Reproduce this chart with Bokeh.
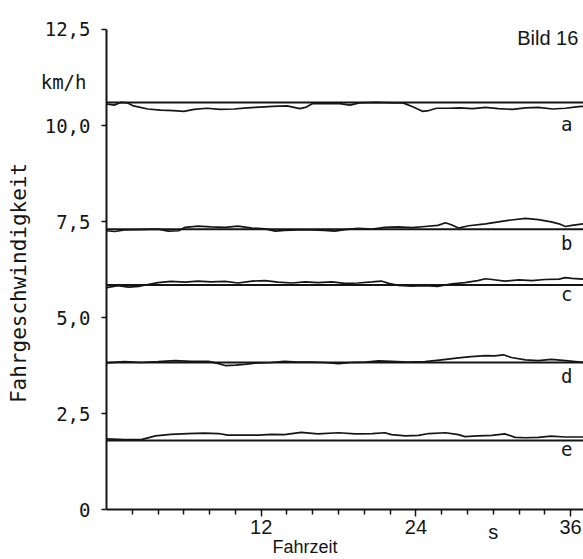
from bokeh.plotting import figure
from bokeh.models import FixedTicker, Label, Range1d
from bokeh.embed import file_html
from bokeh.resources import INLINE

# ---- data ----
y_ticks = [0, 2.5, 5.0, 7.5, 10.0, 12.5]
y_tick_labels = ["0", "2,5", "5,0", "7,5", "10,0", "12,5"]
x_ticks = [12, 24, 36]
x_minor = [2, 4, 6, 8, 10, 14, 16, 18, 20, 22, 26, 28, 30, 32, 34]

names = ["a", "b", "c", "d", "e"]
ref_levels = [10.6, 7.3, 5.85, 3.83, 1.8]

t_a = [0, 0.6, 1.1, 1.6, 2.1, 3.2, 4.2, 5.2, 6.0, 6.8, 7.8, 8.8, 9.9, 10.9, 11.9, 12.9, 14.0, 15.0, 15.5, 16.0,
       17.1, 18.1, 18.9, 19.6, 20.9, 22.2, 23.0, 23.8, 24.5, 25.0, 25.6, 26.6, 27.4, 28.4, 29.4, 30.4, 31.5,
       32.5, 33.5, 34.6, 35.6, 36.6, 37.0]
v_a = [10.56, 10.53, 10.60, 10.59, 10.51, 10.43, 10.40, 10.39, 10.37, 10.42, 10.45, 10.42, 10.43, 10.46, 10.48,
       10.50, 10.51, 10.44, 10.48, 10.57, 10.57, 10.57, 10.53, 10.59, 10.60, 10.59, 10.59, 10.48, 10.37, 10.39,
       10.45, 10.45, 10.46, 10.44, 10.47, 10.44, 10.42, 10.46, 10.47, 10.43, 10.45, 10.49, 10.50]

t_b = [0, 0.65, 1.4, 2.7, 4.0, 4.8, 5.6, 6.1, 7.1, 8.1, 9.2, 10.2, 11.3, 12.3, 13.1, 13.8, 14.9, 15.9, 16.9, 17.7,
       18.5, 19.5, 20.6, 21.6, 22.6, 23.7, 24.7, 25.7, 26.3, 26.8, 27.3, 28.1, 29.4, 30.4, 31.4, 32.5, 33.5,
       34.5, 35.1, 35.6, 36.1, 37.0]
v_b = [7.26, 7.24, 7.28, 7.29, 7.30, 7.25, 7.26, 7.35, 7.38, 7.36, 7.35, 7.38, 7.33, 7.31, 7.25, 7.27, 7.28, 7.28,
       7.27, 7.25, 7.29, 7.32, 7.30, 7.35, 7.36, 7.34, 7.37, 7.40, 7.47, 7.41, 7.33, 7.39, 7.44, 7.49, 7.54, 7.58,
       7.55, 7.49, 7.44, 7.37, 7.40, 7.44]

t_c = [0, 0.9, 1.7, 2.5, 3.2, 4.0, 5.0, 6.1, 7.1, 8.1, 9.2, 10.2, 11.3, 12.3, 13.3, 14.4, 15.4, 16.4, 17.5, 18.5,
       19.5, 20.6, 21.3, 21.9, 22.6, 23.7, 24.7, 25.7, 26.8, 27.8, 28.8, 29.4, 29.9, 30.9, 32.0, 33.0, 34.0,
       35.1, 35.6, 36.1, 37.0]
v_c = [5.78, 5.83, 5.79, 5.81, 5.86, 5.91, 5.94, 5.92, 5.95, 5.93, 5.94, 5.90, 5.95, 5.96, 5.92, 5.90, 5.93, 5.91,
       5.93, 5.89, 5.90, 5.93, 5.95, 5.89, 5.84, 5.82, 5.83, 5.81, 5.88, 5.91, 5.96, 6.01, 5.99, 5.95, 5.98, 5.96,
       5.99, 6.00, 6.04, 6.02, 6.00]

t_d = [0, 1.4, 2.7, 4.0, 5.3, 6.6, 7.9, 8.7, 9.2, 10.0, 10.7, 11.5, 12.8, 13.8, 14.9, 15.9, 16.9, 18.0, 19.0, 20.1,
       21.1, 22.1, 23.4, 24.7, 26.0, 27.3, 28.3, 29.4, 30.1, 30.8, 31.4, 32.5, 33.5, 34.5, 35.6, 37.0]
v_d = [3.82, 3.85, 3.83, 3.85, 3.88, 3.86, 3.86, 3.80, 3.75, 3.76, 3.78, 3.81, 3.83, 3.86, 3.84, 3.84, 3.83, 3.80,
       3.83, 3.84, 3.87, 3.86, 3.84, 3.85, 3.90, 3.95, 3.98, 4.01, 4.00, 4.03, 3.96, 3.90, 3.88, 3.91, 3.88, 3.83]

t_e = [0, 1.4, 2.7, 3.8, 5.0, 6.3, 7.6, 8.7, 9.4, 10.7, 11.8, 12.8, 13.8, 15.1, 16.4, 18.0, 19.3, 20.6, 21.6, 22.1,
       23.2, 24.2, 25.0, 26.3, 27.3, 27.8, 28.8, 29.9, 30.9, 31.7, 32.5, 33.5, 34.5, 35.6, 37.0]
v_e = [1.84, 1.82, 1.82, 1.92, 1.96, 1.98, 1.99, 1.98, 1.94, 1.94, 1.94, 1.96, 1.95, 2.01, 1.97, 2.00, 1.97, 1.98,
       2.00, 1.95, 1.92, 1.93, 1.98, 2.00, 1.95, 1.90, 1.92, 1.93, 1.97, 1.88, 1.87, 1.88, 1.91, 1.89, 1.89]

series_t = [t_a, t_b, t_c, t_d, t_e]
series_v = [v_a, v_b, v_c, v_d, v_e]
label_drop = [0.57, 0.36, 0.23, 0.36, 0.21]

INK = "#151515"
MONO = "DejaVu Sans Mono"
SANS = "Liberation Sans"

# frame covers the whole canvas; axes are pinned at data zero
p = figure(width=583, height=559, output_backend="svg", toolbar_location=None,
           x_range=Range1d(-8.22, 37.0), y_range=Range1d(-1.30, 13.255),
           min_border=0, min_border_left=0, min_border_right=0, min_border_top=0, min_border_bottom=0)
p.outline_line_color = None
p.xgrid.visible = False
p.ygrid.visible = False
p.background_fill_color = "white"
p.border_fill_color = "white"

# axes
xa = p.xaxis[0]
xa.fixed_location = 0
xa.bounds = (0, 37.0)
xa.ticker = FixedTicker(ticks=x_ticks, minor_ticks=x_minor)
xa.axis_line_color = INK
xa.axis_line_width = 2
xa.major_tick_line_color = INK
xa.major_tick_line_width = 1.5
xa.major_tick_out = 7
xa.major_tick_in = 0
xa.minor_tick_line_color = INK
xa.minor_tick_line_width = 1.5
xa.minor_tick_out = 5
xa.minor_tick_in = 0
xa.major_label_text_font = SANS
xa.major_label_text_font_size = "20px"
xa.major_label_text_color = INK
xa.major_label_standoff = 3

ya = p.yaxis[0]
ya.fixed_location = 0
ya.bounds = (0, 12.5)
ya.ticker = FixedTicker(ticks=y_ticks, minor_ticks=[])
ya.major_label_overrides = {t: s for t, s in zip(y_ticks, y_tick_labels)}
ya.axis_line_color = INK
ya.axis_line_width = 2
ya.major_tick_line_color = INK
ya.major_tick_line_width = 1.5
ya.major_tick_out = 5
ya.major_tick_in = 0
ya.minor_tick_line_color = None
ya.major_label_text_font = MONO
ya.major_label_text_font_size = "19px"
ya.major_label_text_color = INK
ya.major_label_standoff = 11

# reference lines and measured traces
for name, lvl, t, v, drop in zip(names, ref_levels, series_t, series_v, label_drop):
    p.line([t[0], t[-1]], [lvl, lvl], line_color=INK, line_width=2)
    p.line(t, v, line_color=INK, line_width=1.7)
    p.add_layout(Label(x=35.7, y=lvl - drop, text=name, text_font=MONO, text_font_size="19px",
                       text_color=INK, text_align="center", text_baseline="middle"))

# texts
p.add_layout(Label(x=30, y=0, y_offset=-11, text="s", text_font=SANS, text_font_size="20px",
                   text_color=INK, text_align="center", text_baseline="top"))
p.add_layout(Label(x=15.4, y=-0.98, text="Fahrzeit", text_font=SANS, text_font_size="18px",
                   text_color=INK, text_align="center", text_baseline="middle"))
p.add_layout(Label(x=-1.55, y=11.12, text="km/h", text_font=MONO, text_font_size="19px",
                   text_color=INK, text_align="right", text_baseline="middle"))
p.add_layout(Label(x=-6.8, y=5.9, text="Fahrgeschwindigkeit", angle=1.5708, text_font=MONO,
                   text_font_size="21px", text_color=INK, text_align="center", text_baseline="middle"))
p.add_layout(Label(x=36.6, y=12.27, text="Bild 16", text_font=SANS, text_font_size="20px",
                   text_color=INK, text_align="right", text_baseline="middle"))

open("out.html", "w").write(file_html(p, INLINE))
